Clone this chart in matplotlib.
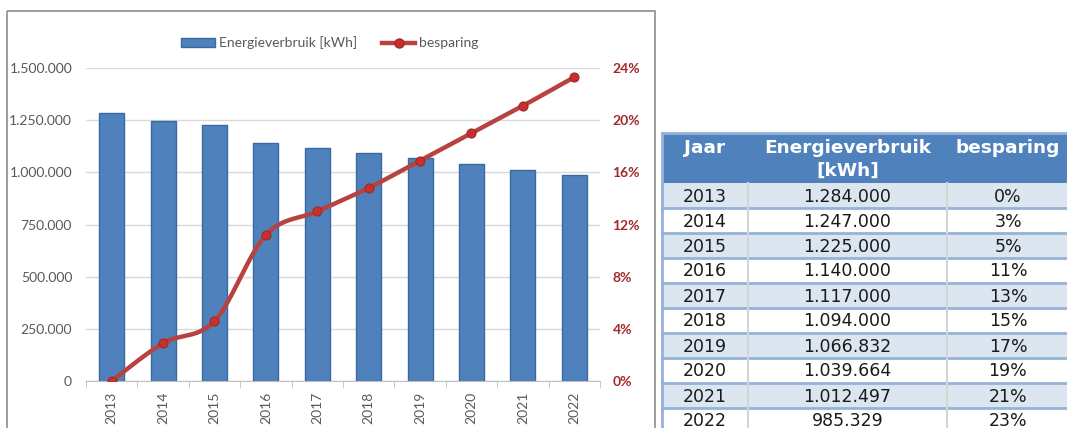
import numpy as np
import matplotlib.pyplot as plt
from matplotlib.patches import Rectangle
from matplotlib.lines import Line2D
from matplotlib.ticker import FuncFormatter, MultipleLocator

# data
years = ['2013', '2014', '2015', '2016', '2017', '2018', '2019', '2020', '2021', '2022']
verbruik = [1284000, 1247000, 1225000, 1140000, 1117000, 1094000, 1066832, 1039664, 1012497, 985329]
besparing = [0.0, 2.9, 4.6, 11.2, 13.0, 14.8, 16.9, 19.0, 21.1, 23.3]
besparing_tabel = ['0%', '3%', '5%', '11%', '13%', '15%', '17%', '19%', '21%', '23%']
kolommen = ['Jaar', 'Energieverbruik\n[kWh]', 'besparing']

BLUE = '#4F81BD'
BLUE_EDGE = '#3A68A0'
RED = '#B8423F'
GREY_TXT = '#595959'
W, H = 1067, 428


def nl_int(v):
    return f'{int(round(v)):,}'.replace(',', '.')


def smooth(x, y, n=24):
    # excel-like smoothed line (catmull-rom as cubic bezier)
    p = np.column_stack([x, y]).astype(float)
    pts = []
    for i in range(len(p) - 1):
        p0 = p[max(i - 1, 0)]
        p1, p2 = p[i], p[i + 1]
        p3 = p[min(i + 2, len(p) - 1)]
        c1 = p1 + (p2 - p0) / 6
        c2 = p2 - (p3 - p1) / 6
        t = np.linspace(0, 1, n)[:, None]
        seg = (1 - t) ** 3 * p1 + 3 * (1 - t) ** 2 * t * c1 + 3 * (1 - t) * t ** 2 * c2 + t ** 3 * p2
        pts.append(seg if i == 0 else seg[1:])
    pts = np.vstack(pts)
    return pts[:, 0], pts[:, 1]


fig = plt.figure(figsize=(W / 100, H / 100), dpi=100)
plt.rcParams['font.family'] = ['Lato', 'DejaVu Sans']

# background layer in pixel coords: chart frame + table
bg = fig.add_axes([0, 0, 1, 1])
bg.set_xlim(0, W)
bg.set_ylim(H, 0)
bg.axis('off')
bg.add_patch(Rectangle((7, 11), 648, 500, fill=False, edgecolor='#8C8C8C', lw=1.2))

# --- table ---
x0, x1, x2, x3 = 662, 748, 947, 1080
hdr_top, hdr_bot, row_h = 133, 183, 25
bg.add_patch(Rectangle((x0, hdr_top), x3 - x0, hdr_bot - hdr_top, facecolor=BLUE, edgecolor='none'))
col_mid = [(x0 + x1) / 2, (x1 + x2) / 2, 1008]
for cx, lab in zip(col_mid, kolommen):
    for j, line in enumerate(lab.split('\n')):
        bg.text(cx, 148 + j * 23, line, ha='center', va='center', color='white', fontsize=13.3,
                fontweight='bold', family='DejaVu Sans')
for i, (yr, v, b) in enumerate(zip(years, verbruik, besparing_tabel)):
    top = hdr_bot + i * row_h
    fc = '#DCE6F1' if i % 2 == 0 else 'white'
    bg.add_patch(Rectangle((x0, top), x3 - x0, row_h, facecolor=fc, edgecolor='none'))
    bg.plot([x0, x3], [top + row_h, top + row_h], color='#95B3D7', lw=2)
    cy = top + row_h / 2 + 1
    for cx, s in zip(col_mid, [yr, nl_int(v), b]):
        bg.text(cx, cy, s, ha='center', va='center', color='#1A1A1A', fontsize=12.5,
                family='DejaVu Sans')
for xv in (x1, x2):
    bg.plot([xv, xv], [hdr_bot, H], color='#D4D4D4', lw=1.5)
bg.plot([x0, x0], [hdr_top, H], color='#95B3D7', lw=2)
bg.plot([x0, x3], [hdr_top, hdr_top], color='#95B3D7', lw=2)

# --- chart ---
ax = fig.add_axes([86 / W, 1 - 381 / H, 514 / W, (381 - 68) / H])
xpos = np.arange(len(years))
ax.bar(xpos, verbruik, width=0.49, color=BLUE, edgecolor=BLUE_EDGE, lw=1, zorder=2)
ax.set_xlim(-0.5, len(years) - 0.5)
ax.set_ylim(0, 1500000)
ax.yaxis.set_major_locator(MultipleLocator(250000))
ax.yaxis.set_major_formatter(FuncFormatter(lambda v, _: nl_int(v)))
ax.grid(axis='y', color='#D9D9D9', lw=1, zorder=0)
for s in ('top', 'left', 'right'):
    ax.spines[s].set_visible(False)
ax.spines['bottom'].set_color('#BFBFBF')
ax.set_xticks(xpos)
ax.set_xticklabels(years, rotation=90, color=GREY_TXT, fontsize=10)
ax.set_xticks(np.arange(-0.5, len(years)), minor=True)
ax.tick_params(axis='x', which='major', length=0, pad=8)
ax.tick_params(axis='x', which='minor', length=5, color='#BFBFBF')
ax.tick_params(axis='y', length=0, pad=10, labelcolor=GREY_TXT, labelsize=10)

ax2 = ax.twinx()
ax2.set_ylim(0, 24)
ax2.yaxis.set_major_locator(MultipleLocator(4))
ax2.yaxis.set_major_formatter(FuncFormatter(lambda v, _: f'{v:.0f}%'))
ax2.tick_params(axis='y', length=0, pad=9, labelcolor='#A3282A', labelsize=10)
for s in ax2.spines.values():
    s.set_visible(False)
sx, sy = smooth(xpos, besparing)
ax2.plot(sx, sy, color=RED, lw=3.2, solid_capstyle='round', zorder=3)
ax2.plot(xpos, besparing, 'o', ms=6.5, color='#C8302C', mec='#9E2A27', mew=0.8, zorder=4)
for lbl in ax2.get_yticklabels():
    lbl.set_fontweight('bold')

handles = [Rectangle((0, 0), 1, 1, facecolor=BLUE, edgecolor=BLUE_EDGE, lw=1),
           Line2D([], [], color=RED, lw=3.2, marker='o', ms=6.5, mfc='#C8302C', mec='#9E2A27')]
fig.legend(handles, ['Energieverbruik [kWh]', 'besparing'], loc='center',
           bbox_to_anchor=(330 / W, 1 - 43 / H), ncol=2, frameon=False, fontsize=10,
           handlelength=2.4, handletextpad=0.3, columnspacing=1.8, labelcolor=GREY_TXT)

fig.savefig('out.png', dpi=100)
